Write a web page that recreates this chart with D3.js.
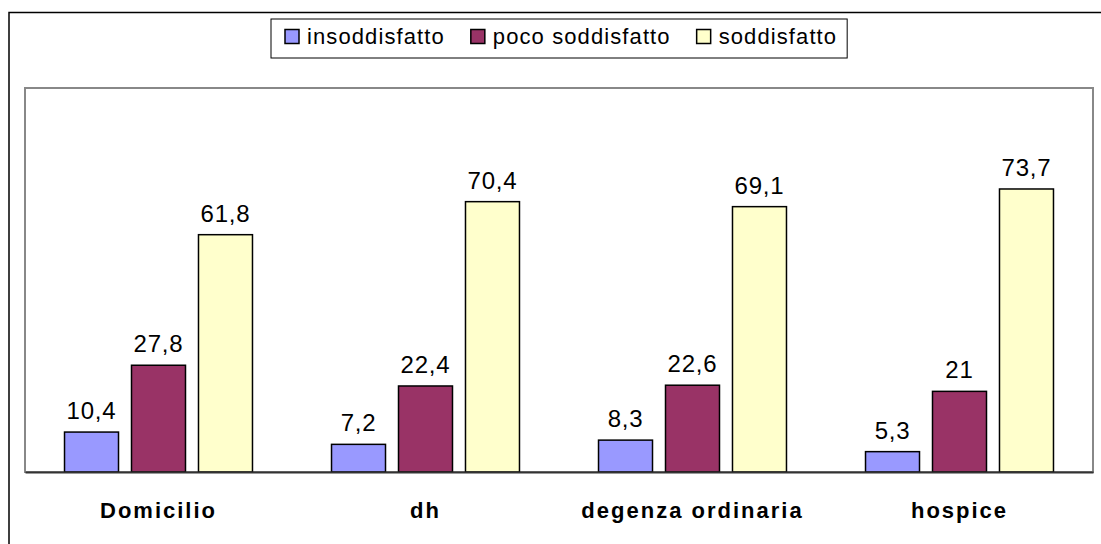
<!DOCTYPE html>
<html>
<head>
<meta charset="utf-8">
<script src="https://cdn.jsdelivr.net/npm/d3@7"></script>
<style>
  body { margin: 0; background: #fff; }
  svg { display: block; font-family: "Liberation Sans", Arial, sans-serif; }
</style>
</head>
<body>
<div id="chart"></div>
<script>
const categories = ["Domicilio", "dh", "degenza ordinaria", "hospice"];
const seriesNames = ["insoddisfatto", "poco soddisfatto", "soddisfatto"];
const insoddisfatto = [10.4, 7.2, 8.3, 5.3];
const pocoSoddisfatto = [27.8, 22.4, 22.6, 21];
const soddisfatto = [61.8, 70.4, 69.1, 73.7];
const colors = ["#9999ff", "#993366", "#ffffcc"];

const width = 1101, height = 544;
const margin = { top: 88, right: 8, bottom: 72, left: 25 };

const values = [insoddisfatto, pocoSoddisfatto, soddisfatto];
const data = categories.map((c, i) => ({
  cat: c,
  vals: seriesNames.map((s, j) => ({ key: s, idx: j, value: values[j][i] }))
}));

const svg = d3.select("#chart").append("svg")
  .attr("width", width)
  .attr("height", height);

// outer chart frame (runs off the right and bottom edge)
svg.append("rect")
  .attr("x", 9).attr("y", 12.5)
  .attr("width", 1200).attr("height", 700)
  .attr("fill", "none")
  .attr("stroke", "#000")
  .attr("stroke-width", 1.5);

const x0 = d3.scaleBand()
  .domain(categories)
  .range([margin.left, width - margin.right])
  .paddingInner(0.296)
  .paddingOuter(0.148);

const x1 = d3.scaleBand()
  .domain(seriesNames)
  .range([0, x0.bandwidth()])
  .paddingInner(0.194);

const y = d3.scaleLinear()
  .domain([0, 100])
  .range([height - margin.bottom, margin.top]);

// plot area
svg.append("rect")
  .attr("x", margin.left).attr("y", margin.top)
  .attr("width", width - margin.right - margin.left)
  .attr("height", y(0) - margin.top)
  .attr("fill", "none")
  .attr("stroke", "#888")
  .attr("stroke-width", 2);

const groups = svg.selectAll("g.cat")
  .data(data)
  .join("g")
  .attr("class", "cat")
  .attr("transform", d => `translate(${x0(d.cat)},0)`);

groups.selectAll("rect")
  .data(d => d.vals)
  .join("rect")
  .attr("x", d => x1(d.key))
  .attr("y", d => y(d.value))
  .attr("width", x1.bandwidth())
  .attr("height", d => y(0) - y(d.value))
  .attr("fill", d => colors[d.idx])
  .attr("stroke", "#000")
  .attr("stroke-width", 1.5);

groups.selectAll("text.val")
  .data(d => d.vals)
  .join("text")
  .attr("class", "val")
  .attr("x", d => x1(d.key) + x1.bandwidth() / 2)
  .attr("y", d => y(d.value) - 13)
  .attr("text-anchor", "middle")
  .attr("font-size", 24)
  .attr("letter-spacing", 0.8)
  .text(d => String(d.value).replace(".", ","));

// x axis (baseline + category labels)
svg.append("g")
  .attr("transform", `translate(0,${y(0)})`)
  .call(d3.axisBottom(x0).tickSize(0).tickPadding(30))
  .call(g => g.select(".domain").attr("stroke", "#333").attr("stroke-width", 2))
  .call(g => g.selectAll("text")
    .attr("font-family", "Liberation Sans, Arial, sans-serif")
    .attr("font-size", 22)
    .attr("font-weight", "bold")
    .attr("letter-spacing", 2)
    .attr("fill", "#000"));

// legend
const legend = svg.append("g");
const legendBox = legend.append("rect")
  .attr("y", 19).attr("height", 39)
  .attr("fill", "#fff")
  .attr("stroke", "#000")
  .attr("stroke-width", 1);

let lx = 285;
seriesNames.forEach((s, i) => {
  legend.append("rect")
    .attr("x", lx).attr("y", 29.5)
    .attr("width", 14).attr("height", 14)
    .attr("fill", colors[i])
    .attr("stroke", "#000")
    .attr("stroke-width", 1.5);
  const t = legend.append("text")
    .attr("x", lx + 22).attr("y", 44)
    .attr("font-size", 22)
    .attr("letter-spacing", 1.1)
    .text(s);
  lx += 22 + t.node().getComputedTextLength() + 26;
});
legendBox.attr("x", 271).attr("width", lx - 26 + 10 - 271);
</script>
</body>
</html>
